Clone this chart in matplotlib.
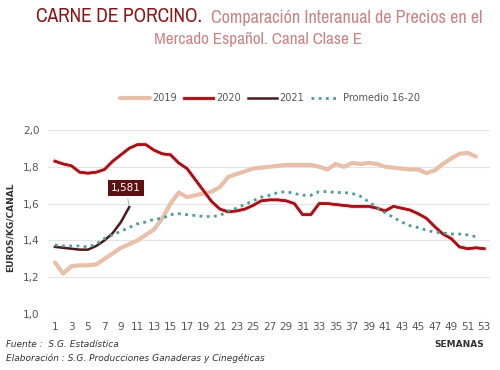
import matplotlib
matplotlib.use('Agg')
from matplotlib import pyplot as plt
from matplotlib import font_manager
import matplotlib.patheffects as pe
from matplotlib.ticker import FuncFormatter

# precios semanales (euros/kg canal)
y2019 = [1.28, 1.22, 1.26, 1.265, 1.265, 1.27, 1.30, 1.33, 1.36, 1.38,
         1.40, 1.43, 1.46, 1.52, 1.60, 1.66, 1.635, 1.645, 1.655, 1.665,
         1.69, 1.745, 1.76, 1.775, 1.79, 1.795, 1.80, 1.805, 1.81, 1.81,
         1.81, 1.81, 1.80, 1.785, 1.815, 1.80, 1.82, 1.815, 1.82, 1.815,
         1.80, 1.795, 1.79, 1.785, 1.785, 1.765, 1.78, 1.815, 1.845, 1.87,
         1.875, 1.855]
y2020 = [1.83, 1.815, 1.805, 1.77, 1.765, 1.77, 1.785, 1.83, 1.865, 1.90,
         1.92, 1.92, 1.89, 1.87, 1.865, 1.82, 1.79, 1.73, 1.67, 1.61,
         1.57, 1.555, 1.56, 1.57, 1.59, 1.615, 1.62, 1.62, 1.615, 1.60,
         1.54, 1.54, 1.60, 1.60, 1.595, 1.59, 1.585, 1.585, 1.585, 1.575,
         1.56, 1.585, 1.575, 1.565, 1.545, 1.52, 1.475, 1.435, 1.41, 1.365,
         1.355, 1.36, 1.355]
y2021 = [1.365, 1.36, 1.355, 1.35, 1.35, 1.37, 1.40, 1.44, 1.50, 1.581]
prom = [1.375, 1.37, 1.37, 1.37, 1.365, 1.38, 1.41, 1.43, 1.45, 1.47,
        1.49, 1.50, 1.515, 1.52, 1.54, 1.545, 1.54, 1.535, 1.53, 1.53,
        1.535, 1.56, 1.575, 1.595, 1.615, 1.635, 1.645, 1.66, 1.665, 1.655,
        1.645, 1.645, 1.665, 1.665, 1.66, 1.66, 1.655, 1.64, 1.61, 1.58,
        1.55, 1.525, 1.50, 1.48, 1.47, 1.455, 1.445, 1.44, 1.435, 1.435,
        1.43, 1.42]
xticks = list(range(1, 54, 2))
yticks = [1.0, 1.2, 1.4, 1.6, 1.8, 2.0]

def semanas(serie):
    return list(range(1, len(serie) + 1))

# busca una fuente estrecha si la hay
narrow = 'Roboto'
for f in font_manager.fontManager.ttflist:
    if 'Condensed' in f.name or 'Narrow' in f.name:
        narrow = f.name
        break

fig = plt.figure(figsize=(5, 3.7), dpi=100)
ax = fig.add_axes([0.096, 0.151, 0.884, 0.498])

ax.plot(semanas(y2019), y2019, color='#E8BFAA', lw=3, label='2019', solid_capstyle='round')
ax.plot(semanas(y2020), y2020, color='#A3121A', lw=1.8, label='2020',
        path_effects=[pe.withStroke(linewidth=3.6, foreground='#F4C4C4', alpha=0.5), pe.Normal()])
ax.plot(semanas(y2021), y2021, color='#4A1A1C', lw=1.8, label='2021')
ax.plot(semanas(prom), prom, color='#4E9A9E', lw=2, ls=(0, (1, 1.6)), label='Promedio 16-20')

# etiqueta del ultimo valor 2021
ax.annotate('1,581', xy=(10, y2021[-1]), xytext=(9.6, 1.685), ha='center', va='center',
            color='white', fontsize=7.5,
            bbox=dict(boxstyle='square,pad=0.3', fc='#5C1212', ec='none'),
            arrowprops=dict(arrowstyle='-', color='#9AA7B0', lw=0.6))

ax.set_xlim(0.16, 53.7)
ax.set_ylim(1.0, 2.0)
ax.set_xticks(xticks)
ax.set_yticks(yticks)
ax.yaxis.set_major_formatter(FuncFormatter(lambda v, p: f'{v:.1f}'.replace('.', ',')))
ax.tick_params(length=0, labelsize=7.5, colors='#555555', pad=6)
ax.grid(axis='y', color='#E3E3E3', lw=0.8)
for s in ax.spines.values():
    s.set_visible(False)
ax.set_axisbelow(True)

leg = ax.legend(loc='lower left', bbox_to_anchor=(0.155, 1.125), ncol=4, frameon=False,
                fontsize=7, handlelength=3.0, columnspacing=0.7, handletextpad=0.3,
                borderaxespad=0)
for t in leg.get_texts():
    t.set_color('#555555')

fig.text(0.02, 0.385, 'EUROS/KG/CANAL', rotation=90, fontsize=6.5, fontweight='bold',
         color='#333333', ha='center', va='center')
fig.text(0.968, 0.062, 'SEMANAS', fontsize=6.5, fontweight='bold', color='#333333', ha='right')
fig.text(0.012, 0.062, 'Fuente :  S.G. Estadística', fontsize=6.5, style='italic', color='#333333')
fig.text(0.012, 0.025, 'Elaboración : S.G. Producciones Ganaderas y Cinegéticas', fontsize=6.5,
         style='italic', color='#333333')

# titulo, ajustado al ancho de la referencia
W = fig.bbox.width
titles = [
    ('CARNE DE PORCINO.', 36, 202, 0.955, '#8A1515'),
    ('Comparación Interanual de Precios en el', 211, 482, 0.952, '#C98585'),
    ('Mercado Español. Canal Clase E', 154, 362, 0.893, '#C98585'),
]
for txt, xa, xb, yy, col in titles:
    t = fig.text(xa / W, yy, txt, fontsize=14, color=col, family=narrow, va='center')
    fig.canvas.draw()
    w = t.get_window_extent().width
    t.set_fontsize(14 * (xb - xa) / w)

fig.savefig('out.png', dpi=100)
